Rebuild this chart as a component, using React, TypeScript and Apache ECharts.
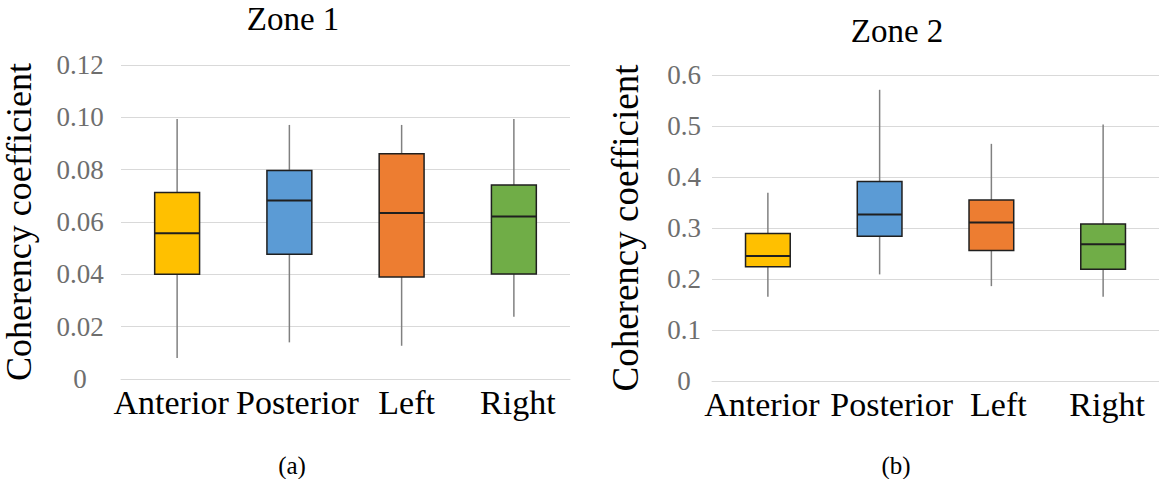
import React, { useEffect, useRef } from "react";
import * as echarts from "echarts";

const categories = ["Anterior", "Posterior", "Left", "Right"];
const boxColors = ["#FFC000", "#5B9BD5", "#ED7D31", "#70AD47"];

// Zone 1 statistics
const zone1Min = [0.008, 0.014, 0.0127, 0.0238];
const zone1Q1 = [0.04, 0.0477, 0.039, 0.0401];
const zone1Median = [0.0557, 0.0682, 0.0634, 0.0621];
const zone1Q3 = [0.0713, 0.0797, 0.0861, 0.0741];
const zone1Max = [0.0994, 0.0971, 0.0971, 0.0994];
const zone1Ticks = ["0", "0.02", "0.04", "0.06", "0.08", "0.10", "0.12"];

// Zone 2 statistics
const zone2Min = [0.165, 0.209, 0.186, 0.165];
const zone2Q1 = [0.224, 0.284, 0.256, 0.219];
const zone2Median = [0.245, 0.3265, 0.311, 0.268];
const zone2Q3 = [0.289, 0.391, 0.355, 0.308];
const zone2Max = [0.369, 0.571, 0.465, 0.503];
const zone2Ticks = ["0", "0.1", "0.2", "0.3", "0.4", "0.5", "0.6"];

const SERIF = "Liberation Serif";

// horizontal nudges of the category labels (px), as in the original figure
const labelShift1 = [-6, 8, 5, 4];
const labelShift2 = [-6, 12, 7, 4];

function buildRows(mn: number[], q1: number[], md: number[], q3: number[], mx: number[]) {
  return categories.map((_, i) => [i, mn[i], q1[i], md[i], q3[i], mx[i]]);
}

function renderBox(params: any, api: any) {
  const i = api.value(0);
  const pMin = api.coord([i, api.value(1)]);
  const pQ1 = api.coord([i, api.value(2)]);
  const pMed = api.coord([i, api.value(3)]);
  const pQ3 = api.coord([i, api.value(4)]);
  const pMax = api.coord([i, api.value(5)]);
  const w = api.size([1, 0])[0] * 0.4;
  const x = pMed[0];
  return {
    type: "group",
    children: [
      {
        type: "line",
        shape: { x1: x, y1: pMax[1], x2: x, y2: pMin[1] },
        style: { stroke: "#808080", lineWidth: 1.5 },
      },
      {
        type: "rect",
        shape: { x: x - w / 2, y: pQ3[1], width: w, height: pQ1[1] - pQ3[1] },
        style: { fill: boxColors[params.dataIndex], stroke: "#1f1f1f", lineWidth: 1.5 },
      },
      {
        type: "line",
        shape: { x1: x - w / 2, y1: pMed[1], x2: x + w / 2, y2: pMed[1] },
        style: { stroke: "#1f1f1f", lineWidth: 2 },
      },
    ],
  };
}

function xAxisFor(gridIndex: number, shifts: number[]) {
  const rich: any = {};
  shifts.forEach((s, i) => {
    rich["c" + i] = {
      fontSize: 34,
      fontFamily: SERIF,
      color: "#000",
      padding: s >= 0 ? [0, 0, 0, 2 * s] : [0, -2 * s, 0, 0],
    };
  });
  return {
    type: "category",
    gridIndex,
    data: categories,
    axisLine: { show: true, lineStyle: { color: "#d9d9d9", width: 1 } },
    axisTick: { show: false },
    splitLine: { show: false },
    axisLabel: {
      interval: 0,
      hideOverlap: false,
      margin: 6,
      fontSize: 34,
      fontFamily: SERIF,
      color: "#000",
      formatter: (v: string, idx: number) => "{c" + idx + "|" + v + "}",
      rich,
    },
  };
}

function yAxisFor(
  gridIndex: number,
  max: number,
  interval: number,
  ticks: string[],
  labelMargin: number,
  nameGap: number,
  nameSize: number
) {
  return {
    type: "value",
    gridIndex,
    min: 0,
    max,
    interval,
    name: "Coherency coefficient",
    nameLocation: "middle",
    nameGap,
    nameTextStyle: { fontSize: nameSize, fontFamily: SERIF, color: "#000" },
    axisLine: { show: false },
    axisTick: { show: false },
    splitLine: { show: true, lineStyle: { color: "#d9d9d9", width: 1 } },
    axisLabel: {
      margin: labelMargin,
      align: "center",
      fontSize: 27,
      fontFamily: SERIF,
      color: "#6e6e6e",
      formatter: (_v: number, idx: number) => ticks[idx],
    },
  };
}

export default function App() {
  const ref = useRef<HTMLDivElement>(null);
  useEffect(() => {
    document.body.style.margin = "0";
    if (!ref.current) return;
    const chart = echarts.init(ref.current, null, { renderer: "svg" });
    const titleStyle = { fontFamily: SERIF, fontSize: 33, fontWeight: "normal", color: "#000" };
    const capStyle = { fontFamily: SERIF, fontSize: 25, fontWeight: "normal", color: "#000" };
    chart.setOption({
      animation: false,
      backgroundColor: "#fff",
      title: [
        { text: "Zone 1", left: 288, top: -3, textAlign: "center", textStyle: titleStyle },
        { text: "Zone 2", left: 892, top: 9, textAlign: "center", textStyle: titleStyle },
        { text: "(a)", left: 287, top: 448, textAlign: "center", textStyle: capStyle },
        { text: "(b)", left: 891, top: 448, textAlign: "center", textStyle: capStyle },
      ],
      grid: [
        { left: 117, top: 65, width: 453, height: 314 },
        { left: 712, top: 75, width: 450, height: 306 },
      ],
      xAxis: [xAxisFor(0, labelShift1), xAxisFor(1, labelShift2)],
      yAxis: [
        yAxisFor(0, 0.12, 0.02, zone1Ticks, 41, 84, 36),
        yAxisFor(1, 0.6, 0.1, zone2Ticks, 28, 68, 37),
      ],
      series: [
        {
          type: "custom",
          name: "Zone 1",
          xAxisIndex: 0,
          yAxisIndex: 0,
          renderItem: renderBox,
          encode: { x: 0, y: [1, 2, 3, 4, 5] },
          data: buildRows(zone1Min, zone1Q1, zone1Median, zone1Q3, zone1Max),
        },
        {
          type: "custom",
          name: "Zone 2",
          xAxisIndex: 1,
          yAxisIndex: 1,
          renderItem: renderBox,
          encode: { x: 0, y: [1, 2, 3, 4, 5] },
          data: buildRows(zone2Min, zone2Q1, zone2Median, zone2Q3, zone2Max),
        },
      ],
    });
    return () => chart.dispose();
  }, []);
  return <div ref={ref} style={{ width: 1159, height: 479 }} />;
}
